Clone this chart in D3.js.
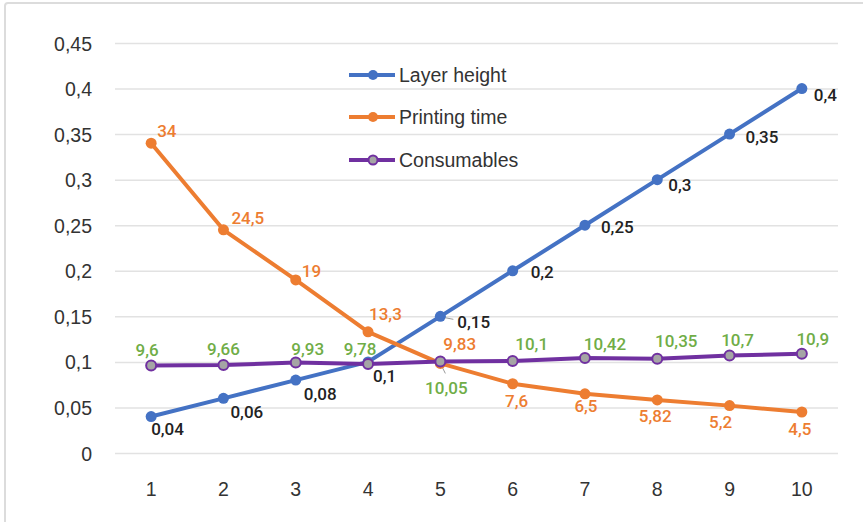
<!DOCTYPE html>
<html>
<head>
<meta charset="utf-8">
<script src="https://cdn.jsdelivr.net/npm/d3@7"></script>
<style>
  html, body { margin: 0; padding: 0; background: #fff; }
  svg { display: block; }
</style>
</head>
<body>
<svg id="chart" width="863" height="522"></svg>
<script>
// Categories along the x axis
const categories = [1, 2, 3, 4, 5, 6, 7, 8, 9, 10];
// Layer height (mm)
const layerHeight = [0.04, 0.06, 0.08, 0.1, 0.15, 0.2, 0.25, 0.3, 0.35, 0.4];
// Printing time, plotted at 1/100 of its value
const printingTime = [34, 24.5, 19, 13.3, 9.83, 7.6, 6.5, 5.82, 5.2, 4.5];
// Consumables, plotted at 1/100 of its value
const consumables = [9.6, 9.66, 9.93, 9.78, 10.05, 10.1, 10.42, 10.35, 10.7, 10.9];
// Y axis ticks
const yTicks = [0, 0.05, 0.1, 0.15, 0.2, 0.25, 0.3, 0.35, 0.4, 0.45];
const seriesNames = ["Layer height", "Printing time", "Consumables"];

// Label placement relative to each point [dx, dy]
const heightLabelPos = [[0,18],[7,20],[8,20],[5,20],[17,12],[18,7],[16,8],[11,11],[16,9],[12,12]];
const timeLabelPos = [[6,-6],[8,-6],[6,-3],[1,-12],[3,-13],[4,23],[1,18],[-2,22],[-9,22],[-2,23]];
const timeLabelAnchor = ["start","start","start","start","start","middle","middle","middle","middle","middle"];
const consLabelPos = [[-4,-10],[0,-10],[12,-8],[-8,-9],[6,33],[19,-11],[20,-8],[19,-12],[8,-10],[11,-9]];

const fmt = v => String(v).replace(".", ",");
const colors = { blue: "#4472C4", orange: "#ED7D31", purple: "#7030A0", green: "#70AD47", grey: "#A5A5A5" };

const svg = d3.select("#chart");

// frame
svg.append("rect")
  .attr("x", 5).attr("y", 3).attr("width", 900).attr("height", 560)
  .attr("rx", 3)
  .attr("fill", "none").attr("stroke", "#dcdcdc").attr("stroke-width", 2);

const x = d3.scaleBand().domain(categories).range([115, 838]);
const cx = d => x(d) + x.bandwidth() / 2;
const y = d3.scaleLinear().domain([0, 0.45]).range([453, 43]);

// gridlines
const yAxis = d3.axisLeft(y).tickValues(yTicks).tickSize(-(838 - 115)).tickFormat(d => fmt(d)).tickPadding(23);
const gy = svg.append("g").attr("transform", "translate(115,0)").call(yAxis);
gy.select(".domain").remove();
gy.selectAll(".tick line").attr("stroke", "#e2e2e2").attr("stroke-width", 1.5);
gy.selectAll(".tick text")
  .attr("fill", "#333").attr("font-family", "'Liberation Sans', Arial, sans-serif").attr("font-size", 19.5)
  .attr("dy", "0.36em");

const xAxis = d3.axisBottom(x).tickSize(0).tickPadding(29);
const gx = svg.append("g").attr("transform", "translate(0,453)").call(xAxis);
gx.select(".domain").remove();
gx.selectAll(".tick text")
  .attr("fill", "#333").attr("font-family", "'Liberation Sans', Arial, sans-serif").attr("font-size", 19.5);

const line = d3.line().x(d => cx(d[0])).y(d => y(d[1]));

function drawSeries(pts, color, markerFill) {
  svg.append("path").datum(pts)
    .attr("d", line).attr("fill", "none")
    .attr("stroke", color).attr("stroke-width", 4).attr("stroke-linejoin", "round");
  svg.append("g").selectAll("circle").data(pts).join("circle")
    .attr("cx", d => cx(d[0])).attr("cy", d => y(d[1])).attr("r", markerFill ? 5 : 5.5)
    .attr("fill", markerFill || color)
    .attr("stroke", color).attr("stroke-width", markerFill ? 2 : 0);
}

const hPts = categories.map((c, i) => [c, layerHeight[i]]);
const tPts = categories.map((c, i) => [c, printingTime[i] / 100]);
const cPts = categories.map((c, i) => [c, consumables[i] / 100]);

// leader lines for crowded labels
svg.append("line")
  .attr("x1", cx(5) + 3).attr("y1", y(layerHeight[4]) + 1)
  .attr("x2", cx(5) + 13).attr("y2", y(layerHeight[4]) + 3)
  .attr("stroke", "#9a9a9a").attr("stroke-width", 1);
svg.append("line")
  .attr("x1", cx(5) + 1).attr("y1", y(consumables[4] / 100) + 4)
  .attr("x2", cx(5) + 5).attr("y2", y(consumables[4] / 100) + 12)
  .attr("stroke", "#9a9a9a").attr("stroke-width", 1);

drawSeries(hPts, colors.blue);
drawSeries(tPts, colors.orange);
drawSeries(cPts, colors.purple, colors.grey);

const labelFont = "Roboto, 'DejaVu Sans Condensed', sans-serif";
const labelSize = 17;

svg.append("g").selectAll("text").data(hPts).join("text")
  .attr("x", (d, i) => cx(d[0]) + heightLabelPos[i][0])
  .attr("y", (d, i) => y(d[1]) + heightLabelPos[i][1])
  .attr("font-family", labelFont).attr("font-weight", 500).attr("font-size", labelSize)
  .attr("fill", "#222")
  .text(d => fmt(d[1]));

svg.append("g").selectAll("text").data(tPts).join("text")
  .attr("x", (d, i) => cx(d[0]) + timeLabelPos[i][0])
  .attr("y", (d, i) => y(d[1]) + timeLabelPos[i][1])
  .attr("text-anchor", (d, i) => timeLabelAnchor[i])
  .attr("font-family", labelFont).attr("font-weight", 500).attr("font-size", labelSize)
  .attr("fill", colors.orange)
  .text((d, i) => fmt(printingTime[i]));

svg.append("g").selectAll("text").data(cPts).join("text")
  .attr("x", (d, i) => cx(d[0]) + consLabelPos[i][0])
  .attr("y", (d, i) => y(d[1]) + consLabelPos[i][1])
  .attr("text-anchor", "middle")
  .attr("font-family", labelFont).attr("font-weight", 500).attr("font-size", labelSize)
  .attr("fill", colors.green)
  .text((d, i) => fmt(consumables[i]));

// legend
const legendRows = [
  { name: seriesNames[0], color: colors.blue },
  { name: seriesNames[1], color: colors.orange },
  { name: seriesNames[2], color: colors.purple, fill: colors.grey }
];
const lg = svg.append("g").selectAll("g").data(legendRows).join("g")
  .attr("transform", (d, i) => `translate(349,${[75, 117, 160][i]})`);
lg.append("line").attr("x1", 0).attr("x2", 46).attr("y1", 0).attr("y2", 0)
  .attr("stroke", d => d.color).attr("stroke-width", 4);
lg.append("circle").attr("cx", 24).attr("cy", 0).attr("r", d => d.fill ? 4.5 : 5)
  .attr("fill", d => d.fill || d.color).attr("stroke", d => d.color).attr("stroke-width", d => d.fill ? 2 : 0);
lg.append("text").attr("x", 50).attr("y", 0).attr("dy", "0.35em")
  .attr("font-family", "'Liberation Sans', Arial, sans-serif").attr("font-size", 19.5)
  .attr("fill", "#333")
  .text(d => d.name);
</script>
</body>
</html>
